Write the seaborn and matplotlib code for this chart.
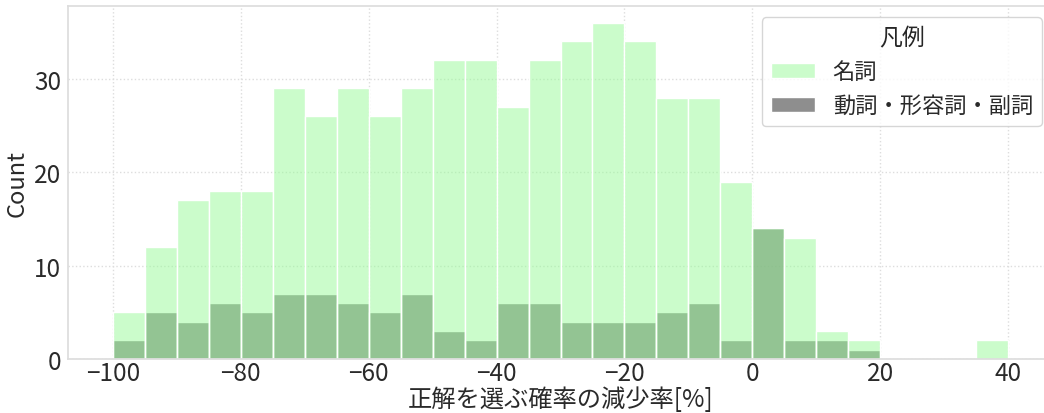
import numpy as np
import matplotlib
matplotlib.use("Agg")
import matplotlib.pyplot as plt
import seaborn as sns

# histogram bins (width 5) and counts
bin_start, bin_stop, bin_width = -100, 40, 5
noun_counts = [5, 12, 17, 18, 18, 29, 26, 29, 26, 29, 32, 32, 27, 32,
               34, 36, 34, 28, 28, 19, 14, 13, 3, 2, 0, 0, 0, 2]
other_counts = [2, 5, 4, 6, 5, 7, 7, 6, 5, 7, 3, 2, 6, 6,
                4, 4, 4, 5, 6, 2, 14, 2, 2, 1, 0, 0, 0, 0]
labels = ["名詞", "動詞・形容詞・副詞"]

sns.set_theme(style="whitegrid")
plt.rcParams['font.family'] = ['Noto Sans CJK JP', 'DejaVu Sans']
plt.rcParams['axes.unicode_minus'] = True

centers = np.arange(bin_start, bin_stop, bin_width) + bin_width / 2

fig = plt.figure(figsize=(10.44, 4.14), dpi=100)
ax = fig.add_axes([68 / 1044, 54 / 414, (1053 - 68) / 1044, (407 - 54) / 414])

# gray drawn first, green layered on top
sns.histplot(x=centers, weights=other_counts, binwidth=bin_width,
             binrange=(bin_start, bin_stop), color="dimgray",
             alpha=0.75, ax=ax, label=labels[1])
sns.histplot(x=centers, weights=noun_counts, binwidth=bin_width,
             binrange=(bin_start, bin_stop), color="palegreen",
             alpha=0.5, ax=ax, label=labels[0])

ax.set_xlim(-107, 47)
ax.set_ylim(0, 37.8)
ax.set_yticks([0, 10, 20, 30])
ax.set_xlabel("正解を選ぶ確率の減少率[%]", fontsize=17.5, color="#2a2a2a", labelpad=0)
ax.set_ylabel("Count", fontsize=17, color="#2a2a2a", labelpad=4)
ax.tick_params(axis='both', labelsize=17.5, colors="#2a2a2a", length=0)
ax.tick_params(axis='x', pad=1)
ax.tick_params(axis='y', pad=5)
ax.grid(True, linestyle=':', color='#dddddd', linewidth=1)
ax.set_axisbelow(True)
for sp in ax.spines.values():
    sp.set_color('#dddddd')

handles, hl = ax.get_legend_handles_labels()
order = [hl.index(labels[0]), hl.index(labels[1])]
leg = ax.legend([handles[i] for i in order], [hl[i] for i in order],
                title="凡例", fontsize=16, title_fontsize=16.5, loc="upper right")
for t in leg.get_texts():
    t.set_color("#2a2a2a")

fig.savefig("out.png", dpi=100)
